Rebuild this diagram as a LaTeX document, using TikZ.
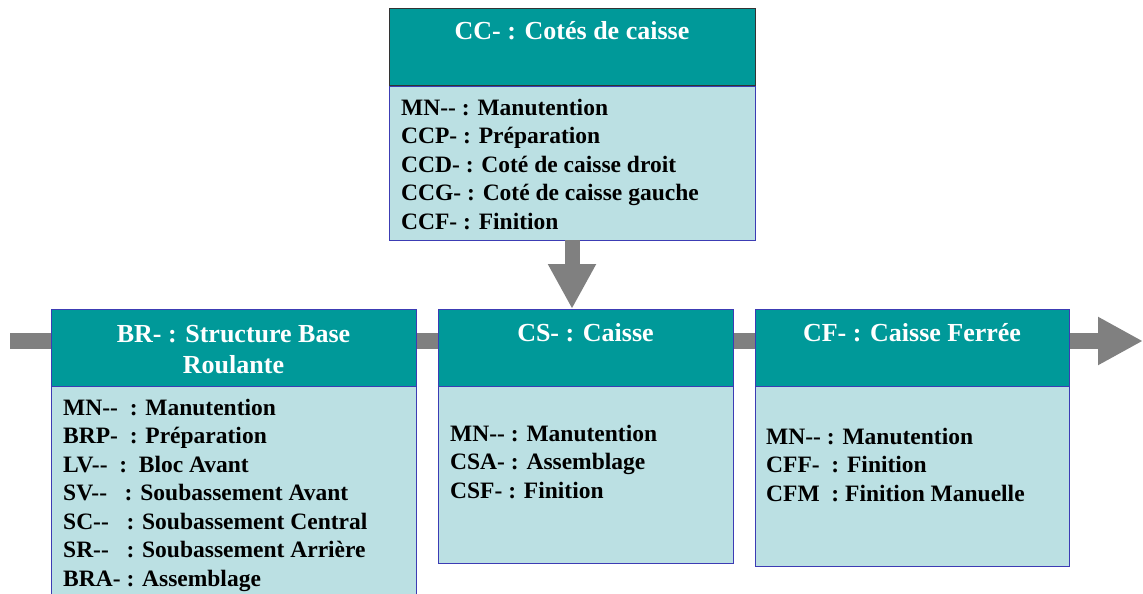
\documentclass[tikz,border=0pt]{standalone}
\usepackage{fontspec}
\setmainfont{Liberation Serif}
\usetikzlibrary{arrows.meta}
\definecolor{teal1}{RGB}{0,153,153}
\definecolor{lightb}{RGB}{187,224,227}
\definecolor{bord}{RGB}{60,60,180}
\definecolor{arrgray}{RGB}{128,128,128}
\tikzset{
  head/.style={draw=bord, line width=1pt, fill=teal1, anchor=north west, inner sep=0pt, outer sep=0pt},
  body/.style={draw=bord, line width=1pt, fill=lightb, anchor=north west, inner sep=0pt, outer sep=0pt},
  ttl/.style={text=white, font=\fontsize{26}{31}\selectfont\bfseries, align=center, inner sep=0pt, anchor=base},
  txt/.style={text=black, font=\fontsize{23.5}{28.5}\selectfont\bfseries, align=left, anchor=base west, inner sep=0pt},
  flow/.style={draw=arrgray, line width=16pt, -{Triangle[length=45pt,width=45pt]}},
  down/.style={draw=arrgray, line width=15pt, -{Triangle[length=45pt,width=45pt]}}
}
\begin{document}
\begin{tikzpicture}[x=1pt,y=-1pt]
\useasboundingbox (0,0) rectangle (1143,594);
% flow arrow (behind)
\coordinate (fstart) at (10,341);
\coordinate (fend) at (1143,341);
\draw[flow] (fstart) -- (fend);
% CC
\node[head, draw=black!80, minimum width=366pt, minimum height=76pt] (cchead) at (389,9) {};
\node[body, minimum width=366pt, minimum height=154pt] (ccbody) at (389,86) {};
\node[ttl] (cctitle) at (572,40) {CC- : Cotés de caisse};
\node[txt] (cctext) at (401,229) {MN-{}- : Manutention\\CCP- : Préparation\\CCD- : Coté de caisse droit\\CCG- : Coté de caisse gauche\\CCF- : Finition};
% BR
\node[head, minimum width=365pt, minimum height=77pt] (brhead) at (51,309) {};
\node[body, minimum width=365pt, minimum height=220pt] (brbody) at (51,386) {};
\node[ttl] (brtitle) at (233.5,373) {BR- : Structure Base\\Roulante};
\node[txt] (brtext) at (63,586) {MN-{}-~~: Manutention\\BRP-~~: Préparation\\LV-{}-~~:~~Bloc Avant\\SV-{}-~~~: Soubassement Avant\\SC-{}-~~~: Soubassement Central\\SR-{}-~~~: Soubassement Arrière\\BRA- : Assemblage};
% CS
\node[head, minimum width=295pt, minimum height=77pt] (cshead) at (438,309) {};
\node[body, minimum width=295pt, minimum height=177pt] (csbody) at (438,386) {};
\node[ttl] (cstitle) at (585.5,341) {CS- : Caisse};
\node[txt] (cstext) at (450,498) {MN-{}- : Manutention\\CSA- : Assemblage\\CSF- : Finition};
% CF
\node[head, minimum width=314pt, minimum height=77pt] (cfhead) at (755,309) {};
\node[body, minimum width=314pt, minimum height=180pt] (cfbody) at (755,386) {};
\node[ttl] (cftitle) at (912,341) {CF- : Caisse Ferrée};
\node[txt] (cftext) at (766,501) {MN-{}- : Manutention\\CFF-~~: Finition\\CFM~~: Finition Manuelle};
% down arrow
\draw[down] (ccbody.south) -- (ccbody.south |- cshead.north);
\end{tikzpicture}
\end{document}
